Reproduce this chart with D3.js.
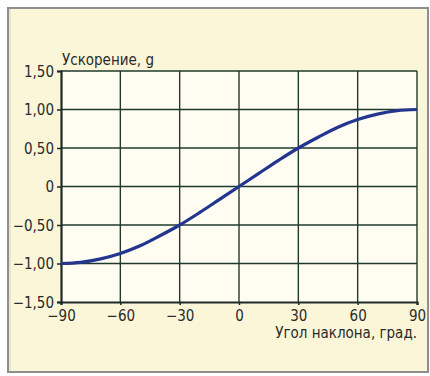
<!DOCTYPE html>
<html><head><meta charset="utf-8">
<script src="https://cdn.jsdelivr.net/npm/d3@7"></script>
<style>
html,body{margin:0;padding:0;background:#fff;}
svg{display:block;}
text{font-family:"DejaVu Sans Condensed","Liberation Sans Narrow",Arial,sans-serif;}
</style></head>
<body><svg id="c" width="430" height="376"></svg>
<script>
const angles = [-90,-80,-70,-60,-50,-40,-30,-20,-10,0,10,20,30,40,50,60,70,80,90];
const accel  = [-1.00,-0.985,-0.94,-0.87,-0.77,-0.64,-0.50,-0.34,-0.17,0.00,0.17,0.34,0.50,0.64,0.77,0.87,0.94,0.985,1.00];
const xTicks = [-90,-60,-30,0,30,60,90];
const yTicks = [-1.5,-1.0,-0.5,0,0.5,1.0,1.5];
const yTickLabels = ["\u22121,50","\u22121,00","\u22120,50","0","0,50","1,00","1,50"];
const xTickLabels = ["\u221290","\u221260","\u221230","0","30","60","90"];
const yTitle = "Ускорение, g";
const xTitle = "Угол наклона, град.";

const svg = d3.select("#c");
svg.append("rect").attr("x",8).attr("y",8).attr("width",420).attr("height",364)
  .attr("fill","#fcf6d8").attr("stroke","#8e8e8e").attr("stroke-width",2);
svg.append("line").attr("x1",10).attr("x2",10).attr("y1",9).attr("y2",371).attr("stroke","#d8d4c4").attr("stroke-width",1);

const x = d3.scaleLinear().domain([-90,90]).range([61,417]);
const y = d3.scaleLinear().domain([-1.5,1.5]).range([302,71]);

svg.append("rect").attr("x",x(-90)).attr("y",y(1.5)).attr("width",x(90)-x(-90)).attr("height",y(-1.5)-y(1.5))
  .attr("fill","#fffdf1");

const gridColor = "#1f3a2c";
const g = svg.append("g");
g.selectAll("line.vx").data(xTicks.slice(1)).join("line")
  .attr("x1",d=>x(d)).attr("x2",d=>x(d)).attr("y1",y(1.5)).attr("y2",y(-1.5))
  .attr("stroke",gridColor).attr("stroke-width",1.4);
g.selectAll("line.hy").data(yTicks.slice(1)).join("line")
  .attr("x1",x(-90)).attr("x2",x(90)).attr("y1",d=>y(d)).attr("y2",d=>y(d))
  .attr("stroke",gridColor).attr("stroke-width",1.4);

const fs = 15;
const yAxis = d3.axisLeft(y).tickValues(yTicks).tickSize(4).tickPadding(3)
  .tickFormat((d,i)=>yTickLabels[i]);
const ya = svg.append("g").attr("transform",`translate(${x(-90)},0)`).call(yAxis);
const xAxis = d3.axisBottom(x).tickValues(xTicks).tickSize(3).tickPadding(4)
  .tickFormat((d,i)=>xTickLabels[i]);
const xa = svg.append("g").attr("transform",`translate(0,${y(-1.5)})`).call(xAxis);
[ya,xa].forEach(a=>{
  a.select(".domain").attr("stroke","#1e2a26").attr("stroke-width",2.2);
  a.selectAll(".tick line").attr("stroke","#1e2a26").attr("stroke-width",1.5);
  a.selectAll("text").attr("fill","#2a2a2a").attr("font-size",fs)
    .attr("font-family",'"DejaVu Sans Condensed","Liberation Sans Narrow",Arial,sans-serif');
});
ya.selectAll("text").attr("dy","0.34em");
xa.selectAll("text").attr("dy","0.82em");

const pts = angles.map((a,i)=>[a,accel[i]]);
svg.append("path").datum(pts)
  .attr("d",d3.line().x(d=>x(d[0])).y(d=>y(d[1])).curve(d3.curveCatmullRom))
  .attr("fill","none").attr("stroke","#23358f").attr("stroke-width",3.2);

svg.append("text").attr("x",62).attr("y",65).text(yTitle)
  .attr("font-size",fs).attr("fill","#2a2a2a");
svg.append("text").attr("x",417).attr("y",338).attr("text-anchor","end").text(xTitle)
  .attr("font-size",fs).attr("fill","#2a2a2a");
</script></body></html>
